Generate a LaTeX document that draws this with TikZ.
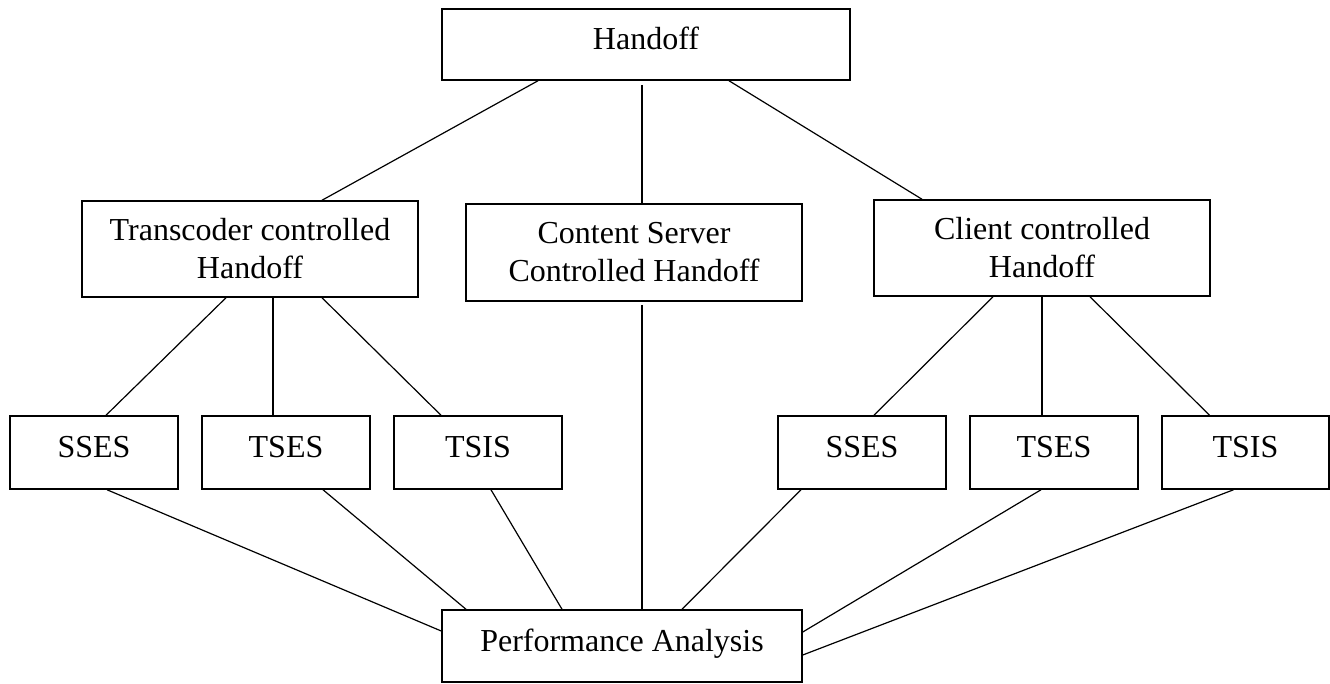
\documentclass[tikz,border=0pt]{standalone}
\usepackage{fontspec}
\setmainfont{Liberation Serif}
\begin{document}
\begin{tikzpicture}[x=1pt,y=-1pt,
  box/.style={draw, line width=1.5pt, inner sep=0pt, align=center,
    font=\fontsize{32}{38}\selectfont},
  onebox/.style={box, text height=22pt, text depth=12pt},
  wide/.style={box, minimum width=336pt, minimum height=96pt},
  small/.style={onebox, minimum width=168pt, minimum height=73pt},
  link/.style={line width=1.2pt}]
\useasboundingbox (0,0) rectangle (1330,683);
\fill[white] (0,0) rectangle (1330,683);
\node[onebox, minimum width=408pt, minimum height=71pt] (handoff) at (646,44.5) {Handoff};
\node[wide] (trans) at (250,249) {Transcoder controlled\\Handoff};
\node[wide, minimum height=97pt] (content) at (634,252.5) {Content Server\\Controlled Handoff};
\node[wide] (client) at (1042,248) {Client controlled\\Handoff};
\node[small] (ssesL) at (94,452.5) {SSES};
\node[small] (tsesL) at (286,452.5) {TSES};
\node[small] (tsisL) at (478,452.5) {TSIS};
\node[small] (ssesR) at (862,452.5) {SSES};
\node[small] (tsesR) at (1054,452.5) {TSES};
\node[small, minimum width=167pt] (tsisR) at (1245.5,452.5) {TSIS};
\node[onebox, minimum width=360pt, minimum height=72pt] (perf) at (622,646) {Performance Analysis};
\draw[link] ([xshift=-108pt]handoff.south) -- ([xshift=72pt]trans.north);
\draw[link] ([xshift=-4pt,yshift=-4pt]handoff.south) -- ([xshift=8pt]content.north);
\draw[link] ([xshift=83pt]handoff.south) -- ([xshift=-120pt]client.north);
\draw[link] ([xshift=-24pt]trans.south) -- ([xshift=12pt]ssesL.north);
\draw[link] ([xshift=23pt]trans.south) -- ([xshift=-13pt]tsesL.north);
\draw[link] ([xshift=72pt]trans.south) -- ([xshift=-37pt]tsisL.north);
\draw[link] ([xshift=-49pt]client.south) -- ([xshift=12pt]ssesR.north);
\draw[link] (client.south) -- ([xshift=-12pt]tsesR.north);
\draw[link] ([xshift=48pt]client.south) -- ([xshift=-36pt]tsisR.north);
\draw[link] ([xshift=8pt,yshift=-3pt]content.south) -- ([xshift=20pt]perf.north);
\draw[link] ([xshift=13pt]ssesL.south) -- ([yshift=15pt]perf.west);
\draw[link] ([xshift=37pt]tsesL.south) -- ([xshift=-156pt]perf.north);
\draw[link] ([xshift=13pt]tsisL.south) -- ([xshift=-60pt]perf.north);
\draw[link] ([xshift=-61pt]ssesR.south) -- ([xshift=60pt]perf.north);
\draw[link] ([xshift=-13pt]tsesR.south) -- ([yshift=14pt]perf.east);
\draw[link] ([xshift=-12pt]tsisR.south) -- ([yshift=-9pt]perf.east);
\end{tikzpicture}
\end{document}
